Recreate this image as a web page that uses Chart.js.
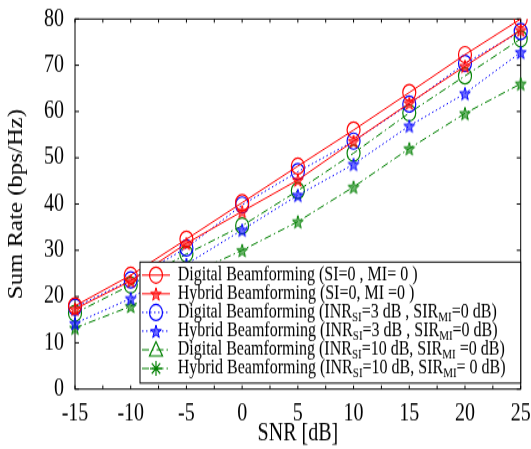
<!DOCTYPE html>
<html>
<head>
<meta charset="utf-8">
<script src="https://cdn.jsdelivr.net/npm/chart.js"></script>
<style>
  html, body { margin: 0; padding: 0; background: #fff; overflow: hidden; width: 531px; height: 449px; }
  #page { width: 531px; height: 449px; position: relative; }
  /* the reference figure is stretched vertically, so the chart is drawn short and scaled */
  #stage { position: absolute; left: 0; top: 0; width: 531px; height: 362px; transform: scaleY(1.2403); transform-origin: 0 0; }
</style>
</head>
<body>
<div id="page"><div id="stage"><canvas id="rateChart" width="531" height="362"></canvas></div></div>
<script>
const snrValues = [-15, -10, -5, 0, 5, 10, 15, 20, 25];
const digitalIdeal = [18.0, 24.6, 32.4, 40.3, 48.2, 56.0, 64.1, 72.3, 80.0];
const hybridIdeal = [17.3, 23.4, 31.5, 38.4, 45.2, 53.6, 61.8, 69.8, 77.6];
const digitalInr3 = [17.7, 23.6, 30.5, 39.8, 47.0, 53.6, 61.6, 70.4, 77.3];
const hybridInr3 = [14.2, 19.6, 27.0, 34.4, 41.9, 48.6, 56.9, 63.9, 72.8];
const digitalInr10 = [16.4, 22.5, 29.2, 35.3, 42.9, 51.0, 59.7, 67.7, 75.7];
const hybridInr10 = [13.2, 17.9, 24.5, 30.0, 36.2, 43.7, 52.0, 59.6, 66.0];

const seriesNames = [
  'Digital Beamforming (SI=0 , MI= 0 )',
  'Hybrid Beamforming (SI=0, MI =0 )',
  'Digital Beamforming (INR_{SI}=3 dB , SIR_{MI}=0 dB)',
  'Hybrid Beamforming (INR_{SI}=3 dB , SIR_{MI}=0 dB)',
  'Digital Beamforming (INR_{SI}=10 dB, SIR_{MI} =0 dB)',
  'Hybrid Beamforming (INR_{SI}=10 dB, SIR_{MI}= 0 dB)'
];

const xTickLabels = ['-15', '-10', '-5', '0', '5', '10', '15', '20', '25'];
const yTickLabels = ['0', '10', '20', '30', '40', '50', '60', '70', '80'];
const xTitle = 'SNR [dB]';
const yTitle = 'Sum Rate (bps/Hz)';

const FONT = '"Liberation Serif", "Times New Roman", serif';
const RED = '#ff0000', BLUE = '#0000ff', GREEN = '#008000';

// pentagram marker like matlab 'p' (looks solid at this size)
function makeStar(color) {
  const c = document.createElement('canvas');
  c.width = 14; c.height = 14;
  const g = c.getContext('2d');
  g.strokeStyle = color;
  g.fillStyle = color;
  g.lineWidth = 1;
  g.beginPath();
  for (let k = 0; k < 10; k++) {
    const r = k % 2 ? 2.2 : 5.6;
    const ang = -Math.PI / 2 + k * Math.PI / 5;
    const px = 7 + r * Math.cos(ang), py = 7.6 + r * Math.sin(ang);
    if (k) g.lineTo(px, py); else g.moveTo(px, py);
  }
  g.closePath();
  g.globalAlpha = 0.55;
  g.fill();
  g.globalAlpha = 1;
  g.stroke();
  return c;
}

function toPoints(values) {
  return snrValues.map((x, i) => ({ x: x, y: values[i] }));
}

function series(name, values, color, dash, marker, legendMarker) {
  return {
    label: name,
    data: toPoints(values),
    borderColor: color,
    borderWidth: 1,
    borderDash: dash,
    fill: false,
    tension: 0,
    pointStyle: marker === 'star' ? makeStar(color) : 'circle',
    pointRadius: 6.5,
    pointBorderWidth: 1.2,
    pointBorderColor: color,
    pointBackgroundColor: 'rgba(0,0,0,0)',
    clip: { left: false, right: false, top: 0, bottom: false },
    legendMarker: legendMarker || marker
  };
}

const DOT = [1.5, 2.5];
const DASHDOT = [7, 3, 1.5, 3];

const datasets = [
  series(seriesNames[0], digitalIdeal, RED, [], 'circle'),
  series(seriesNames[1], hybridIdeal, RED, [], 'star'),
  series(seriesNames[2], digitalInr3, BLUE, DOT, 'circle'),
  series(seriesNames[3], hybridInr3, BLUE, DOT, 'star'),
  series(seriesNames[4], digitalInr10, GREEN, DASHDOT, 'circle', 'triangle'),
  series(seriesNames[5], hybridInr10, GREEN, DASHDOT, 'star', 'asterisk')
];

// box with inward ticks on all four sides
const framePlugin = {
  id: 'frame',
  beforeDatasetsDraw(chart) {
    const { ctx, chartArea: a, scales } = chart;
    ctx.save();
    ctx.strokeStyle = '#000';
    ctx.lineWidth = 1;
    ctx.strokeRect(a.left, a.top, a.right - a.left, a.bottom - a.top);
    ctx.beginPath();
    scales.x.ticks.forEach(t => {
      const px = scales.x.getPixelForValue(t.value);
      ctx.moveTo(px, a.bottom); ctx.lineTo(px, a.bottom - 3);
      ctx.moveTo(px, a.top); ctx.lineTo(px, a.top + 3);
    });
    scales.y.ticks.forEach(t => {
      const py = scales.y.getPixelForValue(t.value);
      ctx.moveTo(a.left, py); ctx.lineTo(a.left + 4, py);
      ctx.moveTo(a.right, py); ctx.lineTo(a.right - 4, py);
    });
    ctx.stroke();
    ctx.restore();
  }
};

function drawMarker(ctx, ds, kind, x, y) {
  ctx.save();
  ctx.strokeStyle = ds.borderColor;
  ctx.lineWidth = 1.2;
  ctx.setLineDash([]);
  ctx.beginPath();
  if (kind === 'circle') {
    ctx.arc(x, y, 6.5, 0, Math.PI * 2);
  } else if (kind === 'triangle') {
    ctx.moveTo(x, y - 6.5);
    ctx.lineTo(x + 6.5, y + 5);
    ctx.lineTo(x - 6.5, y + 5);
    ctx.closePath();
  } else if (kind === 'asterisk') {
    for (let k = 0; k < 4; k++) {
      const ang = k * Math.PI / 4;
      ctx.moveTo(x - 6 * Math.cos(ang), y - 6 * Math.sin(ang));
      ctx.lineTo(x + 6 * Math.cos(ang), y + 6 * Math.sin(ang));
    }
  } else {
    const img = ds.pointStyle;
    ctx.drawImage(img, x - img.width / 2, y - img.height / 2);
  }
  ctx.stroke();
  ctx.restore();
}

// text with _{sub} parts
function drawRich(ctx, text, x, y) {
  const parts = text.split(/_\{([^}]*)\}/);
  parts.forEach((part, i) => {
    const sub = i % 2 === 1;
    ctx.font = (sub ? '11px ' : '16px ') + FONT;
    ctx.fillText(part, x, sub ? y + 4 : y);
    x += ctx.measureText(part).width;
  });
}

const legendPlugin = {
  id: 'matlabLegend',
  afterDatasetsDraw(chart) {
    const { ctx, chartArea: a } = chart;
    const right = a.right, bottom = a.bottom - 4.8;
    const left = 140, top = bottom - 97.6;
    ctx.save();
    ctx.fillStyle = '#fff';
    ctx.fillRect(left, top, right - left, bottom - top);
    ctx.strokeStyle = '#000';
    ctx.lineWidth = 1;
    ctx.strokeRect(left, top, right - left, bottom - top);
    chart.data.datasets.forEach((ds, i) => {
      const y = top + 10.5 + i * 15.05;
      ctx.strokeStyle = ds.borderColor;
      ctx.lineWidth = 1;
      ctx.setLineDash(ds.borderDash);
      ctx.beginPath();
      ctx.moveTo(left + 2, y);
      ctx.lineTo(left + 30, y);
      ctx.stroke();
      drawMarker(ctx, ds, ds.legendMarker, left + 16, y);
      ctx.fillStyle = '#000';
      ctx.textBaseline = 'middle';
      ctx.textAlign = 'left';
      drawRich(ctx, ds.label, left + 37.7, y);
    });
    ctx.restore();
  }
};

new Chart(document.getElementById('rateChart'), {
  type: 'line',
  data: { datasets: datasets },
  plugins: [framePlugin, legendPlugin],
  options: {
    responsive: false,
    animation: false,
    devicePixelRatio: 1,
    layout: { padding: { top: 15.3, right: 10.3, bottom: 0, left: 0 } },
    plugins: { legend: { display: false }, tooltip: { enabled: false } },
    scales: {
      x: {
        type: 'linear',
        min: Number(xTickLabels[0]),
        max: Number(xTickLabels[xTickLabels.length - 1]),
        border: { display: false },
        grid: { display: false, drawTicks: false },
        ticks: {
          stepSize: 2.5,
          autoSkip: false,
          maxRotation: 0,
          padding: 8,
          color: '#000',
          font: { family: FONT, size: 20 },
          callback: v => xTickLabels.includes(String(v)) ? String(v) : ''
        },
        title: { display: true, text: xTitle, color: '#000', font: { family: FONT, size: 20 }, padding: { top: 0, bottom: 0 } },
        afterFit(s) { s.height = 48.3; s.paddingLeft = 0; s.paddingRight = 0; }
      },
      y: {
        min: Number(yTickLabels[0]),
        max: Number(yTickLabels[yTickLabels.length - 1]),
        border: { display: false },
        grid: { display: false, drawTicks: false },
        ticks: {
          stepSize: 10,
          padding: 11,
          color: '#000',
          font: { family: FONT, size: 20 },
          callback: v => yTickLabels.includes(String(v)) ? String(v) : ''
        },
        title: { display: true, text: yTitle, color: '#000', font: { family: FONT, size: 20 }, padding: { top: 5, bottom: 0 } },
        afterFit(s) { s.width = 75; s.paddingTop = 0; s.paddingBottom = 0; }
      }
    }
  }
});
</script>
</body>
</html>
